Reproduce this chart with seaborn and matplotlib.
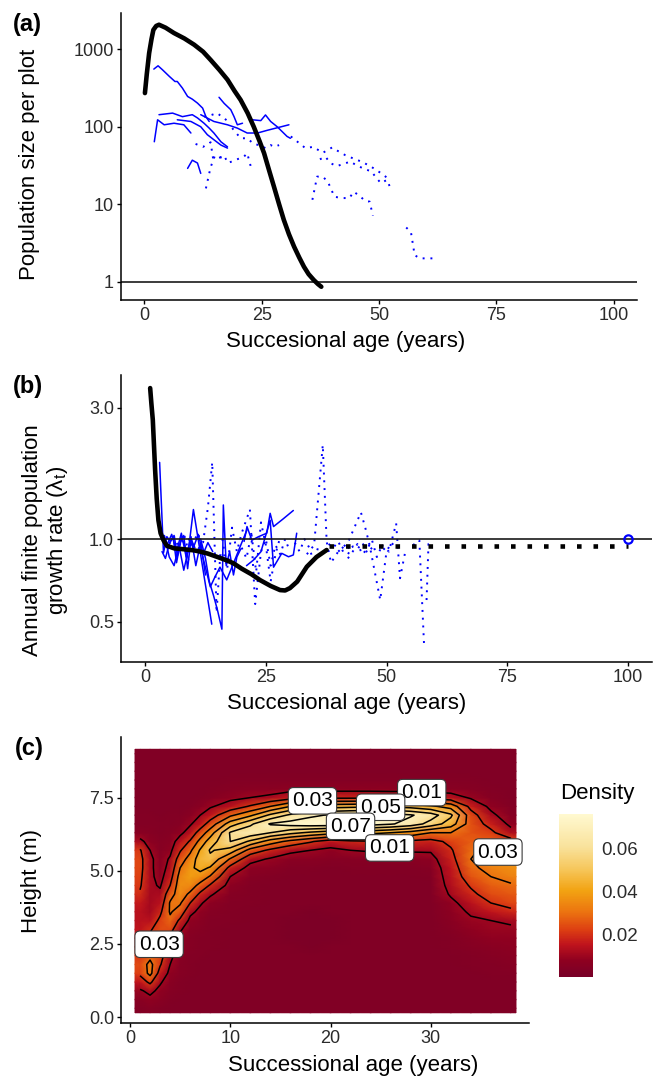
import numpy as np
import pandas as pd
import matplotlib.pyplot as plt
from matplotlib.colors import LinearSegmentedColormap, Normalize
from matplotlib.ticker import NullLocator
import seaborn as sns

# ---------------- panel (a): population size per plot ----------------
a_model_age = [0.1, 0.5, 1.0, 1.5, 1.9, 2.5, 3.1, 4.5, 6.3, 8.5, 10.6, 12.5, 14.1, 16.0, 17.7,
               19.2, 20.5, 22.0, 23.3, 24.5, 25.5, 26.6, 27.6, 28.7, 29.7, 30.8, 31.9, 33.0,
               34.0, 35.0, 36.1, 37.0, 37.7]
a_model_n = [272, 480, 893, 1350, 1778, 2000, 2075, 1900, 1620, 1380, 1145, 930, 730, 540, 405,
             290, 222, 150, 100, 66, 45.6, 27, 16.9, 10, 6.3, 4.1, 2.83, 2.05, 1.56, 1.25, 1.05,
             0.93, 0.86]

# observed plots, solid lines
as1_age = [2.0, 2.9, 3.85, 5.3, 6.5, 7.0, 8.1, 9.2, 10.2, 11.3, 12.4, 13.1, 13.8]
as1_n = [555, 612, 543, 447, 384, 384, 315, 246, 227, 202, 174, 135, 117]
as2_age = [3.1, 6.0, 8.1, 10.2, 11.3, 12.7, 13.8, 14.8, 16.3, 17.7]
as2_n = [143, 150, 135, 143, 130, 111, 96, 83, 64, 55]
as3_age = [2.1, 2.8, 4.2, 6.3, 8.4, 9.9]
as3_n = [64, 123, 106, 111, 106, 83]
as4_age = [9.2, 10.2, 11.3, 12.0]
as4_n = [29, 37, 34, 25]
as5_age = [15.9, 17.0, 18.4, 19.1, 19.8, 20.9]
as5_n = [240, 200, 166, 135, 106, 111]
as6_age = [23.0, 24.8, 25.8, 26.9, 28.3, 30.4, 31.1]
as6_n = [123, 120, 142, 117, 100, 75, 71]
as7_age = [12.0, 14.8, 17.7, 19.8, 21.9, 24.1, 26.2, 30.8]
as7_n = [143, 117, 106, 96, 83, 83, 90, 106]
as8_age = [7.0, 9.9, 12.0, 13.4, 14.8, 16.3, 17.7]
as8_n = [123, 117, 100, 79, 68, 58, 53]

# observed plots, dotted lines
ad1_age = [31.2, 32.9, 34.3, 36.0, 38.0, 40.0, 41.4, 42.8, 44.5, 46.5, 48.5, 50.5, 51.7]
ad1_n = [75, 62, 53, 55, 46, 54, 48, 43, 39, 35, 30, 25, 22]
ad2_age = [37.4, 38.6, 39.6, 41.0, 43.9, 45.3, 46.9, 48.4, 49.4, 50.4, 51.7, 52.3]
ad2_n = [38, 41, 34, 31, 35.5, 31.5, 28.6, 26.4, 22, 18.7, 20.6, 16.9]
ad3_age = [35.8, 36.8, 38.0, 39.1, 40.5, 42.0, 43.7, 44.6, 45.8, 47.0, 48.0, 48.7]
ad3_n = [11.4, 22.7, 22.7, 19.5, 12.5, 12, 12, 14.5, 12.9, 11.1, 10.8, 7.1]
ad4_age = [55.8, 56.8, 57.6, 58.7, 60.4, 62.1]
ad4_n = [5.0, 4.4, 2.2, 2.0, 2.0, 2.0]
ad5_age = [18.7, 20.5, 21.9, 23.3, 24.4, 25.8, 26.9, 27.7, 28.7]
ad5_n = [96, 71, 71, 60, 58, 53, 58, 55, 58]
ad6_age = [10.9, 12.5, 14.1, 14.6, 15.3, 17.0, 17.8, 20.0, 21.2, 21.9, 22.8]
ad6_n = [60, 55, 63, 40, 38.5, 42, 34, 38.5, 41, 45.6, 28.6]
ad7_age = [13.1, 14.1, 15.0, 16.5]
ad7_n = [16, 30, 42, 40]
ad8_age = [12.7, 14.0, 15.5, 17.0, 18.5]
ad8_n = [135, 140, 150, 128, 110]

# ---------------- panel (b): growth rate ----------------
b_model_age = [1.04, 1.3, 1.59, 2.07, 2.4, 2.75, 3.2, 3.8, 4.5, 6.0, 8.0, 10.0, 11.4, 13.0, 15.0,
               17.0, 18.3, 20.0, 22.0, 23.8, 26.0, 27.95, 29.0, 30.0, 31.5, 33.5, 35.5, 37.6]
b_model_lambda = [3.54, 3.1, 2.71, 1.78, 1.4, 1.17, 1.05, 0.99, 0.945, 0.925, 0.918, 0.91, 0.90,
                  0.885, 0.86, 0.835, 0.816, 0.78, 0.745, 0.709, 0.675, 0.652, 0.65, 0.663, 0.70,
                  0.793, 0.86, 0.912]
b_equil_age = [38, 100]
b_equil_lambda = [0.94, 0.94]
b_final_age = [100]
b_final_lambda = [1.0]

bs1_age = [3.0, 3.8, 4.5, 5.2, 6.0, 6.7, 7.5, 8.2, 9.0]
bs1_l = [1.9, 0.89, 1.02, 0.98, 1.03, 0.87, 1.01, 0.95, 0.84]
bs2_age = [3.5, 4.2, 5.0, 5.8, 6.5, 7.3, 8.0, 8.8, 9.5, 10.3]
bs2_l = [0.9, 0.85, 0.96, 1.02, 0.82, 0.97, 1.03, 0.78, 1.0, 0.93]
bs3_age = [4.0, 5.0, 6.0, 7.0, 8.0, 9.0, 10.0, 13.8]
bs3_l = [1.03, 0.86, 0.8, 0.95, 0.77, 0.92, 1.28, 0.49]
bs4_age = [11.5, 12.5, 13.3, 14.2, 15.0, 15.9, 16.2, 16.8, 17.5, 18.3, 19.0, 19.8]
bs4_l = [1.0, 0.85, 0.7, 0.62, 0.55, 0.47, 1.33, 0.8, 0.9, 0.74, 0.86, 0.92]
bs5_age = [20.5, 21.1, 22.1, 23.5, 25.2, 25.9, 26.6, 28.5, 30.7]
bs5_l = [0.98, 1.11, 0.99, 1.02, 1.05, 1.24, 1.11, 1.18, 1.27]
bs6_age = [21.0, 22.5, 24.0, 25.9, 26.6, 28.3, 29.7, 30.7, 31.4]
bs6_l = [0.80, 0.84, 0.9, 1.17, 0.79, 0.887, 0.862, 0.875, 1.05]
bs7_age = [11.4, 13.5, 14.5, 15.5, 16.9, 18.3, 19.7, 21.1]
bs7_l = [0.94, 0.67, 0.73, 0.79, 0.71, 0.816, 0.94, 1.08]
bs8_age = [9.0, 10.0, 11.0, 12.0, 13.0, 14.0]
bs8_l = [1.0, 0.93, 1.04, 0.88, 0.97, 0.9]
bs9_age = [4.5, 5.5, 6.5, 7.5, 8.5, 9.5, 10.5, 11.5, 12.5]
bs9_l = [0.95, 1.04, 0.9, 1.05, 0.86, 1.02, 0.8, 0.97, 0.74]

bd1_age = [11.0, 12.0, 13.0, 13.9, 14.8, 15.6, 16.5]
bd1_l = [0.92, 0.97, 1.3, 1.9, 0.54, 0.9, 0.85]
bd2_age = [33.5, 35.0, 36.8, 37.6, 38.5, 40.0, 41.5, 43.0]
bd2_l = [0.88, 0.95, 2.2, 0.98, 0.82, 0.9, 0.95, 0.9]
bd3_age = [40.0, 42.0, 44.7, 45.6, 46.5, 48.7, 50.0]
bd3_l = [0.9, 0.97, 1.25, 1.1, 0.95, 0.6, 0.9]
bd4_age = [49.0, 50.5, 52.0, 52.8, 54.0]
bd4_l = [0.95, 0.9, 1.14, 0.72, 0.92]
bd5_age = [55.5, 56.8, 57.8]
bd5_l = [0.95, 0.99, 0.405]
bd6_age = [58.3, 58.7, 59.5]
bd6_l = [0.6, 0.96, 0.97]
bd7_age = [16.0, 17.0, 18.0, 19.0, 20.0, 21.7, 22.8, 24.0, 25.0, 26.0, 27.0, 28.0, 29.0, 30.0]
bd7_l = [1.0, 0.78, 1.1, 0.9, 1.05, 1.28, 0.58, 0.9, 1.0, 0.8, 0.95, 0.88, 1.0, 0.9]
bd8_age = [38.0, 39.0, 40.0, 41.0, 42.0, 43.0, 44.0, 45.0, 46.0, 47.0]
bd8_l = [0.96, 0.93, 0.98, 0.9, 0.88, 0.94, 0.92, 0.97, 0.89, 0.93]
bd9_age = [20.0, 21.0, 22.0, 23.0, 24.0, 25.0, 26.0, 27.0, 28.0]
bd9_l = [0.93, 0.85, 1.05, 0.76, 1.15, 0.95, 0.7, 0.88, 1.02]
bd10_age = [31.0, 32.0, 33.0, 34.0, 35.0, 36.0]
bd10_l = [0.97, 0.9, 1.0, 0.93, 0.82, 0.96]
bd11_age = [5.0, 6.0, 7.0, 8.0, 9.0, 10.0, 11.0, 12.0]
bd11_l = [0.96, 1.02, 0.93, 1.05, 0.9, 0.98, 1.05, 0.88]
bd12_age = [42.0, 43.0, 44.0, 45.0, 46.0, 47.0, 48.0, 49.0, 50.0, 51.0, 52.0]
bd12_l = [0.85, 0.9, 0.96, 0.88, 0.92, 0.99, 0.86, 0.94, 0.9, 0.97, 0.93]

# ---------------- panel (c): height density (x1000) ----------------
c_ages = [1, 2, 3, 4, 5, 6, 7, 8, 10, 12, 14, 16, 18, 20, 22, 24, 26, 28, 30, 32, 34, 36, 38]
c_heights = [0.3, 0.6, 0.9, 1.2, 1.5, 1.8, 2.1, 2.4, 2.7, 3.0, 3.3, 3.6, 3.9, 4.2, 4.5,
             4.8, 5.1, 5.4, 5.7, 6.0, 6.3, 6.6, 6.9, 7.2, 7.5, 7.8, 8.1, 8.4, 8.7, 9.0]
dens_age01 = [4, 6, 9, 15, 22, 24, 21, 18, 16, 15, 14, 14, 16, 19, 21, 22, 23, 23, 21, 12, 6, 4, 4, 3, 3, 3, 3, 3, 3, 3]
dens_age02 = [5, 8, 12, 22, 33, 33, 27, 24, 22, 19, 14, 11, 11, 11, 12, 12, 12, 12, 10, 7, 5, 4, 4, 3, 3, 3, 3, 3, 3, 3]
dens_age03 = [4, 6, 8, 11, 16, 21, 24, 25, 25, 24, 22, 18, 14, 12, 9, 7, 6, 6, 5, 5, 4, 4, 3, 3, 3, 3, 3, 3, 3, 3]
dens_age04 = [3, 4, 5, 6, 8, 10, 12, 15, 19, 24, 28, 31, 31, 26, 20, 16, 13, 11, 8, 6, 5, 4, 4, 3, 3, 3, 3, 3, 3, 3]
dens_age05 = [3, 3, 4, 4, 5, 5, 6, 7, 8, 11, 18, 26, 31, 35, 36, 34, 30, 25, 19, 14, 8, 5, 4, 3, 3, 3, 3, 3, 3, 3]
dens_age06 = [3, 3, 3, 3, 4, 4, 4, 5, 5, 6, 8, 12, 20, 28, 35, 39, 38, 34, 28, 21, 14, 9, 6, 4, 3, 3, 3, 3, 3, 3]
dens_age07 = [3, 3, 3, 3, 3, 3, 4, 4, 4, 5, 6, 8, 11, 18, 27, 36, 43, 45, 41, 33, 24, 15, 10, 6, 4, 3, 3, 3, 3, 3]
dens_age08 = [3, 3, 3, 3, 3, 3, 3, 4, 4, 4, 4, 5, 7, 11, 19, 29, 39, 48, 51, 45, 35, 24, 15, 9, 5, 4, 3, 3, 3, 3]
dens_age10 = [3, 3, 3, 3, 3, 3, 3, 3, 3, 3, 4, 4, 4, 5, 7, 10, 17, 29, 46, 60, 61, 45, 28, 14, 8, 5, 4, 3, 3, 3]
dens_age12 = [3, 3, 3, 3, 3, 3, 3, 3, 3, 3, 3, 3, 4, 4, 4, 5, 7, 13, 26, 48, 67, 58, 38, 21, 10, 6, 4, 3, 3, 3]
dens_age14 = [3, 3, 3, 3, 3, 3, 3, 3, 3, 3, 3, 3, 3, 3, 3, 4, 6, 9, 18, 35, 60, 71, 52, 30, 12, 6, 4, 3, 3, 3]
dens_age16 = [3, 3, 3, 3, 3, 3, 3, 3, 2, 2, 2, 3, 3, 3, 3, 3, 4, 6, 12, 27, 53, 74, 62, 40, 16, 7, 4, 3, 3, 3]
dens_age18 = [3, 3, 3, 3, 3, 3, 3, 2, 2, 2, 2, 2, 3, 3, 3, 3, 4, 6, 10, 21, 48, 76, 68, 44, 18, 7, 4, 3, 3, 3]
dens_age20 = [3, 3, 3, 3, 3, 3, 3, 3, 2, 2, 2, 3, 3, 3, 3, 3, 3, 5, 8, 15, 44, 76, 71, 46, 18, 7, 4, 3, 3, 3]
dens_age22 = [3, 3, 3, 3, 3, 3, 3, 3, 3, 3, 3, 3, 3, 3, 3, 3, 4, 5, 10, 18, 44, 75, 73, 47, 18, 7, 4, 3, 3, 3]
dens_age24 = [3, 3, 3, 3, 3, 3, 3, 3, 3, 3, 3, 3, 3, 3, 3, 3, 4, 5, 11, 19, 43, 74, 74, 48, 18, 7, 4, 3, 3, 3]
dens_age26 = [3, 3, 3, 3, 3, 3, 3, 3, 3, 3, 3, 3, 3, 3, 3, 3, 4, 6, 11, 19, 40, 71, 74, 48, 17, 7, 4, 3, 3, 3]
dens_age28 = [3, 3, 3, 3, 3, 3, 3, 3, 3, 3, 3, 3, 3, 3, 3, 3, 4, 6, 11, 18, 36, 66, 71, 46, 17, 7, 4, 3, 3, 3]
dens_age30 = [3, 3, 3, 3, 3, 3, 3, 3, 3, 3, 3, 3, 3, 3, 3, 4, 5, 7, 11, 17, 30, 56, 65, 42, 16, 6, 4, 3, 3, 3]
dens_age32 = [3, 3, 3, 3, 3, 3, 3, 4, 4, 5, 6, 7, 8, 11, 13, 14, 15, 17, 19, 22, 30, 45, 52, 36, 14, 6, 4, 3, 3, 3]
dens_age34 = [3, 3, 3, 3, 3, 4, 4, 5, 6, 8, 9, 11, 14, 18, 21, 25, 28, 30, 29, 27, 25, 25, 24, 17, 9, 5, 4, 3, 3, 3]
dens_age36 = [3, 3, 3, 3, 4, 4, 5, 6, 8, 9, 10, 15, 20, 24, 27, 30, 33, 34, 32, 27, 22, 17, 12, 8, 5, 4, 3, 3, 3, 3]
dens_age38 = [3, 3, 3, 3, 4, 5, 6, 7, 8, 9, 11, 18, 23, 26, 29, 33, 36, 36, 33, 24, 13, 8, 5, 4, 3, 3, 3, 3, 3, 3]

contour_levels = [0.01, 0.02, 0.03, 0.04, 0.05, 0.06, 0.07]
label_text = ["0.01", "0.03", "0.05", "0.07", "0.01", "0.03", "0.03"]
label_age = [29.1, 18.2, 25.0, 22.0, 25.9, 36.7, 2.9]
label_height = [7.67, 7.39, 7.17, 6.52, 5.78, 5.64, 2.49]


def long_form(pairs, ycol):
    frames = []
    for i, (x, y) in enumerate(pairs):
        frames.append(pd.DataFrame({"age": x, ycol: y, "plot": i}))
    return pd.concat(frames, ignore_index=True)


a_solid = long_form([(as1_age, as1_n), (as2_age, as2_n), (as3_age, as3_n), (as4_age, as4_n),
                     (as5_age, as5_n), (as6_age, as6_n), (as7_age, as7_n), (as8_age, as8_n)], "n")
a_dotted = long_form([(ad1_age, ad1_n), (ad2_age, ad2_n), (ad3_age, ad3_n), (ad4_age, ad4_n),
                      (ad5_age, ad5_n), (ad6_age, ad6_n), (ad7_age, ad7_n), (ad8_age, ad8_n)], "n")
b_solid = long_form([(bs1_age, bs1_l), (bs2_age, bs2_l), (bs3_age, bs3_l), (bs4_age, bs4_l),
                     (bs5_age, bs5_l), (bs6_age, bs6_l), (bs7_age, bs7_l), (bs8_age, bs8_l),
                     (bs9_age, bs9_l)], "lam")
b_dotted = long_form([(bd1_age, bd1_l), (bd2_age, bd2_l), (bd3_age, bd3_l), (bd4_age, bd4_l),
                      (bd5_age, bd5_l), (bd6_age, bd6_l), (bd7_age, bd7_l), (bd8_age, bd8_l),
                      (bd9_age, bd9_l), (bd10_age, bd10_l), (bd11_age, bd11_l),
                      (bd12_age, bd12_l)], "lam")

# ---------------- style ----------------
sns.set_theme(style="ticks")
plt.rcParams["font.family"] = ["Liberation Sans", "DejaVu Sans"]
plt.rcParams["mathtext.fontset"] = "custom"
plt.rcParams["mathtext.rm"] = "Liberation Sans"
plt.rcParams["text.color"] = "black"
plt.rcParams["xtick.labelsize"] = 13
plt.rcParams["ytick.labelsize"] = 13

W, H = 653, 1077
fig = plt.figure(figsize=(W / 100, H / 100), dpi=100)


def box(left, top, right, bottom):
    return [left / W, 1 - bottom / H, (right - left) / W, (bottom - top) / H]


def style_axes(ax):
    for side in ["top", "right"]:
        ax.spines[side].set_visible(False)
    for side in ["left", "bottom"]:
        ax.spines[side].set_color("black")
        ax.spines[side].set_linewidth(1.1)
    ax.tick_params(axis="both", which="major", length=3, width=1.0, color="black",
                   labelsize=13, labelcolor="#2b2b2b", pad=2)
    ax.yaxis.set_minor_locator(NullLocator())
    ax.xaxis.set_minor_locator(NullLocator())
    ax.set_xlabel("")
    ax.set_ylabel("")


blue = "#0000ff"
dot = (0, (1, 3))

# ---------------- (a) ----------------
ax_a = fig.add_axes(box(121, 13, 637, 300))
ax_a.set_yscale("log")
sns.lineplot(data=a_solid, x="age", y="n", units="plot", estimator=None, color=blue,
             lw=1.1, ax=ax_a, legend=False)
sns.lineplot(data=a_dotted, x="age", y="n", units="plot", estimator=None, color=blue,
             lw=1.4, linestyle=dot, ax=ax_a, legend=False)
ax_a.axhline(1, color="#1a1a1a", lw=1.2, zorder=2.5)
sns.lineplot(x=a_model_age, y=a_model_n, estimator=None, color="black", lw=3.3, ax=ax_a,
             zorder=3)
ax_a.set_xlim(-5, 105)
ax_a.set_ylim(0.58, 2940)
ax_a.set_xticks([0, 25, 50, 75, 100], ["0", "25", "50", "75", "100"])
ax_a.set_yticks([1, 10, 100, 1000], ["1", "10", "100", "1000"])
style_axes(ax_a)

# ---------------- (b) ----------------
ax_b = fig.add_axes(box(121, 375, 652, 662))
ax_b.set_yscale("log")
sns.lineplot(data=b_solid, x="age", y="lam", units="plot", estimator=None, color=blue,
             lw=1.1, ax=ax_b, legend=False)
sns.lineplot(data=b_dotted, x="age", y="lam", units="plot", estimator=None, color=blue,
             lw=1.4, linestyle=dot, ax=ax_b, legend=False)
ax_b.axhline(1, color="#1a1a1a", lw=1.2, zorder=2.5)
sns.lineplot(x=b_model_age, y=b_model_lambda, estimator=None, color="black", lw=3.3,
             ax=ax_b, zorder=3)
sns.lineplot(x=b_equil_age, y=b_equil_lambda, estimator=None, color="black", lw=3.3,
             linestyle=(0, (1, 2.6)), ax=ax_b, zorder=3)
ax_b.plot(b_final_age, b_final_lambda, "o", mfc="none", mec=blue, ms=6, mew=1.6, zorder=4,
          clip_on=False)
ax_b.set_xlim(-5, 105)
ax_b.set_ylim(0.357, 3.95)
ax_b.set_xticks([0, 25, 50, 75, 100], ["0", "25", "50", "75", "100"])
ax_b.set_yticks([0.5, 1.0, 3.0], ["0.5", "1.0", "3.0"])
style_axes(ax_b)

# ---------------- (c) ----------------
ax_c = fig.add_axes(box(121, 737, 529, 1023))
cax = fig.add_axes(box(559, 814, 593, 977))

X = np.array(c_ages, dtype=float)
Y = np.array(c_heights)
Z = np.column_stack([dens_age01, dens_age02, dens_age03, dens_age04, dens_age05, dens_age06,
                     dens_age07, dens_age08, dens_age10, dens_age12, dens_age14, dens_age16,
                     dens_age18, dens_age20, dens_age22, dens_age24, dens_age26, dens_age28,
                     dens_age30, dens_age32, dens_age34, dens_age36, dens_age38]) / 1000.0

# raster cells reach half a step past the outer grid points
Xp = np.concatenate([[X[0] - 0.5], X, [X[-1] + 0.5]])
Yp = np.concatenate([[Y[0] - 0.15], Y, [Y[-1] + 0.15]])
Zp = np.pad(Z, 1, mode="edge")

cmap = LinearSegmentedColormap.from_list("dens", [
    (0.0, "#780028"), (0.10, "#8e0020"), (0.20, "#c0141c"), (0.29, "#dd3f12"),
    (0.40, "#ec7410"), (0.53, "#f2a312"), (0.66, "#f6c65a"), (0.80, "#f9e29c"),
    (1.0, "#fff9d0")])
norm = Normalize(vmin=0.0, vmax=0.076)

mesh = ax_c.pcolormesh(Xp, Yp, Zp, shading="gouraud", cmap=cmap, norm=norm, rasterized=True)
ax_c.contour(X, Y, Z, levels=contour_levels, colors="black", linewidths=1.1)
for i, (tx, lx, ly) in enumerate(zip(label_text, label_age, label_height)):
    ax_c.text(lx, ly, tx, ha="center", va="center", fontsize=15, zorder=5 + i,
              bbox=dict(boxstyle="round,pad=0.18,rounding_size=0.25", fc="white",
                        ec="#3a3a3a", lw=0.8))
ax_c.set_xlim(-0.9, 39.8)
ax_c.set_ylim(-0.2, 9.57)
ax_c.set_xticks([0, 10, 20, 30], ["0", "10", "20", "30"])
ax_c.set_yticks([0.0, 2.5, 5.0, 7.5], ["0.0", "2.5", "5.0", "7.5"])
style_axes(ax_c)

cb = fig.colorbar(mesh, cax=cax, ticks=[0.02, 0.04, 0.06])
cb.outline.set_visible(False)
cb.ax.set_yticklabels(["0.02", "0.04", "0.06"])
cb.ax.tick_params(which="major", left=True, right=True, direction="in", length=6, width=0.9,
                  color="white", labelsize=13.5, labelcolor="#2b2b2b", pad=6)
cb.ax.yaxis.set_minor_locator(NullLocator())

# ---------------- titles and tags ----------------
def ftext(x, y, s, **kw):
    fig.text(x / W, 1 - y / H, s, **kw)


ftext(13, 24, "(a)", fontsize=17, fontweight="bold", ha="left", va="center")
ftext(13, 386, "(b)", fontsize=17, fontweight="bold", ha="left", va="center")
ftext(15, 748, "(c)", fontsize=17, fontweight="bold", ha="left", va="center")

ftext(346, 342, "Succesional age (years)", fontsize=16, ha="center", va="center")
ftext(30, 164, "Population size per plot", fontsize=16, rotation=90, ha="center", va="center")
ftext(347, 703, "Succesional age (years)", fontsize=16, ha="center", va="center")
ftext(46, 540, "Annual finite population\ngrowth rate (λ$_{\\mathrm{t}}$)", fontsize=16,
      rotation=90, ha="center", va="center", multialignment="center", linespacing=1.15)
ftext(353, 1065, "Successional age (years)", fontsize=16, ha="center", va="center")
ftext(32, 881, "Height (m)", fontsize=16, rotation=90, ha="center", va="center")
ftext(560, 794, "Density", fontsize=16, ha="left", va="center")

fig.savefig("out.png", dpi=100)
